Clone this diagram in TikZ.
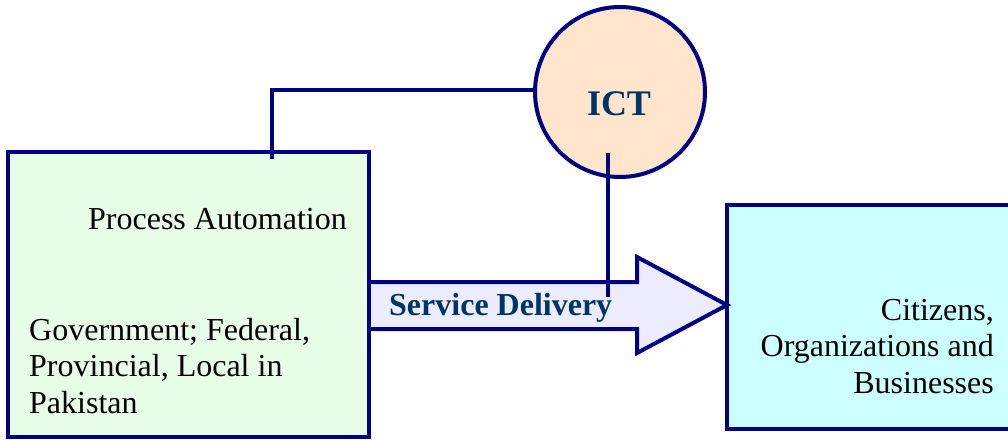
\documentclass[tikz,border=0pt]{standalone}
\usepackage{fontspec}
\setmainfont{Liberation Serif}
\definecolor{navyline}{RGB}{0,0,128}
\definecolor{txtblue}{RGB}{0,51,102}
\definecolor{govfill}{RGB}{232,253,232}
\definecolor{ictfill}{RGB}{255,229,204}
\definecolor{arrfill}{RGB}{236,236,255}
\definecolor{citfill}{RGB}{204,255,255}
\begin{document}
\begin{tikzpicture}[x=1pt,y=-1pt,
  boxstyle/.style={draw=navyline,line width=4pt,inner sep=0pt,outer sep=0pt},
  bodytext/.style={font=\fontsize{32}{36.5}\selectfont,inner sep=0pt,text=black},
  boldtext/.style={font=\fontsize{32}{36}\selectfont\bfseries,inner sep=0pt,text=txtblue},
  conn/.style={draw=navyline,line width=4pt}]
\useasboundingbox (0,0) rectangle (1008,439);
% boxes
\node[boxstyle,fill=citfill,minimum width=290pt,minimum height=224pt,anchor=north west] (cit) at (727,205) {};
\node[boxstyle,fill=govfill,minimum width=361pt,minimum height=285pt,anchor=north west] (gov) at (7.5,152) {};
% arrow
\draw[conn,fill=arrfill,line join=miter] (gov.east |- 0,282) -- (637,282) -- (637,257) -- (cit.west |- 0,305) -- (637,353) -- (637,329) -- (gov.east |- 0,329);
\draw[conn] (gov.east |- 0,280) -- (gov.east |- 0,331);
% circle
\node[boxstyle,circle,fill=ictfill,minimum size=170pt] (ict) at (620,92) {};
% connectors
\coordinate (pa) at (272,159);
\coordinate (sdtop) at (608,153);
\coordinate (sdbot) at (608,297);
\draw[conn] (ict.west |- 0,90) -| (pa);
\draw[conn] (sdtop) -- (sdbot);
% texts
\node[boldtext,anchor=base,font=\fontsize{36}{40}\selectfont\bfseries] (ictlbl) at (619,115) {ICT};
\node[boldtext,anchor=base west] (sdlbl) at (389,315) {Service Delivery};
\node[bodytext,anchor=base east] (palbl) at (347,229) {Process Automation};
\node[bodytext,anchor=base west,align=left] (govlbl) at (29,413) {Government; Federal,\\Provincial, Local in\\Pakistan};
\node[bodytext,anchor=base east,align=right] (citlbl) at (994,393) {Citizens,\\Organizations and\\Businesses};
\end{tikzpicture}
\end{document}
